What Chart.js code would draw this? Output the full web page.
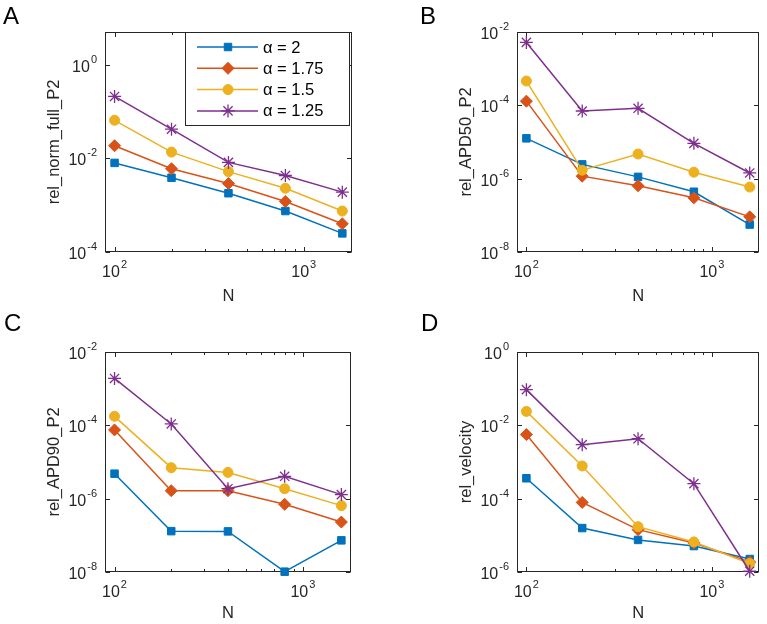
<!DOCTYPE html>
<html>
<head>
<meta charset="utf-8">
<script src="https://cdn.jsdelivr.net/npm/chart.js@4.4.1/dist/chart.umd.min.js"></script>
<style>
  html, body { margin: 0; padding: 0; background: #ffffff; }
  #wrap { position: relative; width: 767px; height: 624px; background: #ffffff; overflow: hidden; }
  #wrap canvas { position: absolute; }
</style>
</head>
<body>
<div id="wrap">
  <canvas id="cA" width="383" height="312" style="left:0px;top:0px"></canvas>
  <canvas id="cB" width="384" height="312" style="left:383px;top:0px"></canvas>
  <canvas id="cC" width="383" height="312" style="left:0px;top:312px"></canvas>
  <canvas id="cD" width="384" height="312" style="left:383px;top:312px"></canvas>
</div>
<script>
// ---------------- data ----------------
const N_VALUES = [100, 200, 400, 800, 1600];
const SERIES_LABELS = ['α = 2', 'α = 1.75', 'α = 1.5', 'α = 1.25'];
const PANEL_LETTERS = ['A', 'B', 'C', 'D'];
const Y_TITLES = ['rel_norm_full_P2', 'rel_APD50_P2', 'rel_APD90_P2', 'rel_velocity'];
const X_TITLE = 'N';
const X_TICK_EXPONENTS = [2, 3];
const X_MINOR_TICKS = [200, 300, 400, 500, 600, 700, 800, 900];
const Y_TICK_EXPONENTS_A = [-4, -2, 0];
const Y_TICK_EXPONENTS_B = [-8, -6, -4, -2];
const Y_TICK_EXPONENTS_C = [-8, -6, -4, -2];
const Y_TICK_EXPONENTS_D = [-6, -4, -2, 0];

// Panel A : rel_norm_full_P2
const normFull_a2   = [8.0e-3, 3.85e-3, 1.8e-3, 7.5e-4, 2.5e-4];
const normFull_a175 = [1.86e-2, 6.0e-3, 2.9e-3, 1.2e-3, 4.0e-4];
const normFull_a15  = [6.5e-2, 1.36e-2, 5.2e-3, 2.3e-3, 7.5e-4];
const normFull_a125 = [0.21, 4.2e-2, 8.2e-3, 4.3e-3, 1.9e-3];
// Panel B : rel_APD50_P2
const apd50_a2   = [1.26e-5, 2.45e-6, 1.12e-6, 4.4e-7, 5.6e-8];
const apd50_a175 = [1.3e-4, 1.17e-6, 6.4e-7, 3.0e-7, 9.1e-8];
const apd50_a15  = [4.6e-4, 1.7e-6, 4.7e-6, 1.5e-6, 5.9e-7];
const apd50_a125 = [5.2e-3, 7.0e-5, 8.3e-5, 9.2e-6, 1.43e-6];
// Panel C : rel_APD90_P2
const apd90_a2   = [4.8e-6, 1.3e-7, 1.28e-7, 1.02e-8, 7.3e-8];
const apd90_a175 = [7.5e-5, 1.65e-6, 1.65e-6, 7.0e-7, 2.3e-7];
const apd90_a15  = [1.76e-4, 7.0e-6, 5.2e-6, 1.87e-6, 6.45e-7];
const apd90_a125 = [1.9e-3, 1.09e-4, 1.87e-6, 4.07e-6, 1.29e-6];
// Panel D : rel_velocity
const vel_a2   = [3.6e-4, 1.58e-5, 7.5e-6, 5.1e-6, 2.26e-6];
const vel_a175 = [5.6e-3, 7.9e-5, 1.43e-5, 6.2e-6, 1.87e-6];
const vel_a15  = [2.4e-2, 7.8e-4, 1.72e-5, 6.6e-6, 1.7e-6];
const vel_a125 = [9.4e-2, 2.97e-3, 4.3e-3, 2.57e-4, 1.05e-6];

// ---------------- styles ----------------
const COLORS = ['#0072BD', '#D95319', '#EDB120', '#7E2F8E'];
const MARKERS = [
  { style: 'rect',    radius: 5.3, border: 1 },
  { style: 'rectRot', radius: 6.0, border: 1 },
  { style: 'circle',  radius: 5.0, border: 1 },
  { style: 'star',    radius: 6.5, border: 1.3 }
];
const AXIS_COLOR = '#262626';
const FONT = "'Liberation Sans', Arial, Helvetica, sans-serif";
const TICK_PX = 16, EXP_PX = 11, LABEL_PX = 16.5, LEGEND_PX = 16.5, LETTER_PX = 24;
const X_MIN = 89, X_MAX = 1800;

const PANELS = [
  { canvas: 'cA', series: [normFull_a2, normFull_a175, normFull_a15, normFull_a125], yTicks: Y_TICK_EXPONENTS_A,
    yMin: 1e-4, yMax: 5, pad: { left: 105, top: 32, right: 31, bottom: 60 },
    letter: { x: 3, y: 24 }, titleY: 301, legend: true },
  { canvas: 'cB', series: [apd50_a2, apd50_a175, apd50_a15, apd50_a125], yTicks: Y_TICK_EXPONENTS_B,
    yMin: 1e-8, yMax: 1e-2, pad: { left: 134, top: 32, right: 4, bottom: 60 },
    letter: { x: 37, y: 24 }, titleY: 301, legend: false },
  { canvas: 'cC', series: [apd90_a2, apd90_a175, apd90_a15, apd90_a125], yTicks: Y_TICK_EXPONENTS_C,
    yMin: 1e-8, yMax: 1e-2, pad: { left: 105, top: 40, right: 32, bottom: 52 },
    letter: { x: 4, y: 19 }, titleY: 306, legend: false },
  { canvas: 'cD', series: [vel_a2, vel_a175, vel_a15, vel_a125], yTicks: Y_TICK_EXPONENTS_D,
    yMin: 1e-6, yMax: 1, pad: { left: 134, top: 40, right: 5, bottom: 52 },
    letter: { x: 38, y: 19 }, titleY: 306, legend: false }
];

function drawMarker(ctx, i, x, y) {
  const m = MARKERS[i];
  const opts = { pointStyle: m.style, radius: m.radius, rotation: 0, borderWidth: m.border };
  ctx.save();
  ctx.fillStyle = COLORS[i];
  ctx.strokeStyle = COLORS[i];
  ctx.lineWidth = m.border;
  if (Chart.helpers && Chart.helpers.drawPoint) {
    Chart.helpers.drawPoint(ctx, opts, x, y);
  }
  ctx.restore();
}

// draws "10" with a raised exponent; align: 'center' or 'right'
function drawPow10(ctx, exp, x, baseY, align) {
  const base = '10', sup = String(exp);
  ctx.font = TICK_PX + 'px ' + FONT;
  const wb = ctx.measureText(base).width;
  ctx.font = EXP_PX + 'px ' + FONT;
  const ws = ctx.measureText(sup).width;
  const total = wb + 1 + ws;
  const x0 = align === 'right' ? x - total : x - total / 2;
  ctx.textAlign = 'left';
  ctx.textBaseline = 'alphabetic';
  ctx.font = TICK_PX + 'px ' + FONT;
  ctx.fillText(base, x0, baseY);
  ctx.font = EXP_PX + 'px ' + FONT;
  ctx.fillText(sup, x0 + wb + 1, baseY - 9);
}

const matlabAxes = {
  id: 'matlabAxes',
  beforeDatasetsDraw(chart, args, o) {
    const p = o.panel, idx = o.index;
    const { ctx, chartArea: a } = chart;
    const xs = chart.scales.x, ys = chart.scales.y;
    const L = Math.round(a.left) + 0.5, R = Math.round(a.right) - 0.5;
    const T = Math.round(a.top) + 0.5, B = Math.round(a.bottom) - 0.5;
    ctx.save();
    ctx.fillStyle = '#ffffff';
    ctx.fillRect(a.left, a.top, a.right - a.left, a.bottom - a.top);
    ctx.strokeStyle = AXIS_COLOR;
    ctx.lineWidth = 1;
    ctx.beginPath();
    X_TICK_EXPONENTS.forEach(e => {
      const px = Math.round(xs.getPixelForValue(Math.pow(10, e))) + 0.5;
      ctx.moveTo(px, B); ctx.lineTo(px, B - 4.5);
      ctx.moveTo(px, T); ctx.lineTo(px, T + 4.5);
    });
    X_MINOR_TICKS.forEach(v => {
      const px = Math.round(xs.getPixelForValue(v)) + 0.5;
      ctx.moveTo(px, B); ctx.lineTo(px, B - 2.5);
      ctx.moveTo(px, T); ctx.lineTo(px, T + 2.5);
    });
    p.yTicks.forEach(e => {
      const py = Math.round(ys.getPixelForValue(Math.pow(10, e))) + 0.5;
      ctx.moveTo(L, py); ctx.lineTo(L + 4.5, py);
      ctx.moveTo(R, py); ctx.lineTo(R - 4.5, py);
    });
    ctx.stroke();
    ctx.strokeRect(L, T, R - L, B - T);

    ctx.fillStyle = AXIS_COLOR;
    X_TICK_EXPONENTS.forEach(e => {
      const px = xs.getPixelForValue(Math.pow(10, e));
      drawPow10(ctx, e, px, a.bottom + 25, 'center');
    });
    p.yTicks.forEach(e => {
      const py = ys.getPixelForValue(Math.pow(10, e));
      drawPow10(ctx, e, a.left - 8, py + 7, 'right');
    });

    ctx.font = LABEL_PX + 'px ' + FONT;
    ctx.textAlign = 'center';
    ctx.textBaseline = 'alphabetic';
    ctx.fillText(X_TITLE, (a.left + a.right) / 2, p.titleY);
    ctx.save();
    ctx.translate(a.left - 46, (a.top + a.bottom) / 2);
    ctx.rotate(-Math.PI / 2);
    ctx.fillText(Y_TITLES[idx], 0, 0);
    ctx.restore();

    ctx.font = LETTER_PX + 'px ' + FONT;
    ctx.textAlign = 'left';
    ctx.fillStyle = '#000000';
    ctx.fillText(PANEL_LETTERS[idx], p.letter.x, p.letter.y);
    ctx.restore();
  },
  afterDatasetsDraw(chart, args, o) {
    const p = o.panel;
    if (!p.legend) return;
    const { ctx, chartArea: a } = chart;
    const bx = 185.5, by = a.top + 0.5, bw = 164, bh = 93;
    ctx.save();
    ctx.fillStyle = '#ffffff';
    ctx.fillRect(bx, by, bw, bh);
    ctx.strokeStyle = AXIS_COLOR;
    ctx.lineWidth = 1;
    ctx.strokeRect(bx, by, bw, bh);
    SERIES_LABELS.forEach((lab, i) => {
      const cy = by + 14.5 + i * 21.3;
      ctx.strokeStyle = COLORS[i];
      ctx.lineWidth = 1.5;
      ctx.beginPath();
      ctx.moveTo(197, cy); ctx.lineTo(258, cy);
      ctx.stroke();
      drawMarker(ctx, i, 228, cy);
      ctx.fillStyle = '#000000';
      ctx.font = LEGEND_PX + 'px ' + FONT;
      ctx.textAlign = 'left';
      ctx.textBaseline = 'middle';
      ctx.fillText(lab, 263, cy + 1);
    });
    ctx.restore();
  }
};

PANELS.forEach((p, idx) => {
  const datasets = p.series.map((vals, i) => ({
    label: SERIES_LABELS[i],
    data: vals.map((v, k) => ({ x: N_VALUES[k], y: v })),
    borderColor: COLORS[i],
    backgroundColor: COLORS[i],
    borderWidth: 1.5,
    pointStyle: MARKERS[i].style,
    pointRadius: MARKERS[i].radius,
    pointBorderWidth: MARKERS[i].border,
    pointBackgroundColor: COLORS[i],
    pointBorderColor: COLORS[i],
    tension: 0,
    fill: false,
    clip: false,
    order: 3 - i
  }));
  new Chart(document.getElementById(p.canvas), {
    type: 'line',
    data: { labels: N_VALUES, datasets: datasets },
    options: {
      responsive: false,
      animation: false,
      devicePixelRatio: 1,
      layout: { padding: p.pad },
      plugins: { legend: { display: false }, tooltip: { enabled: false }, matlabAxes: { panel: p, index: idx } },
      scales: {
        x: { type: 'logarithmic', min: X_MIN, max: X_MAX, display: false },
        y: { type: 'logarithmic', min: p.yMin, max: p.yMax, display: false }
      }
    },
    plugins: [matlabAxes]
  });
});
</script>
</body>
</html>
